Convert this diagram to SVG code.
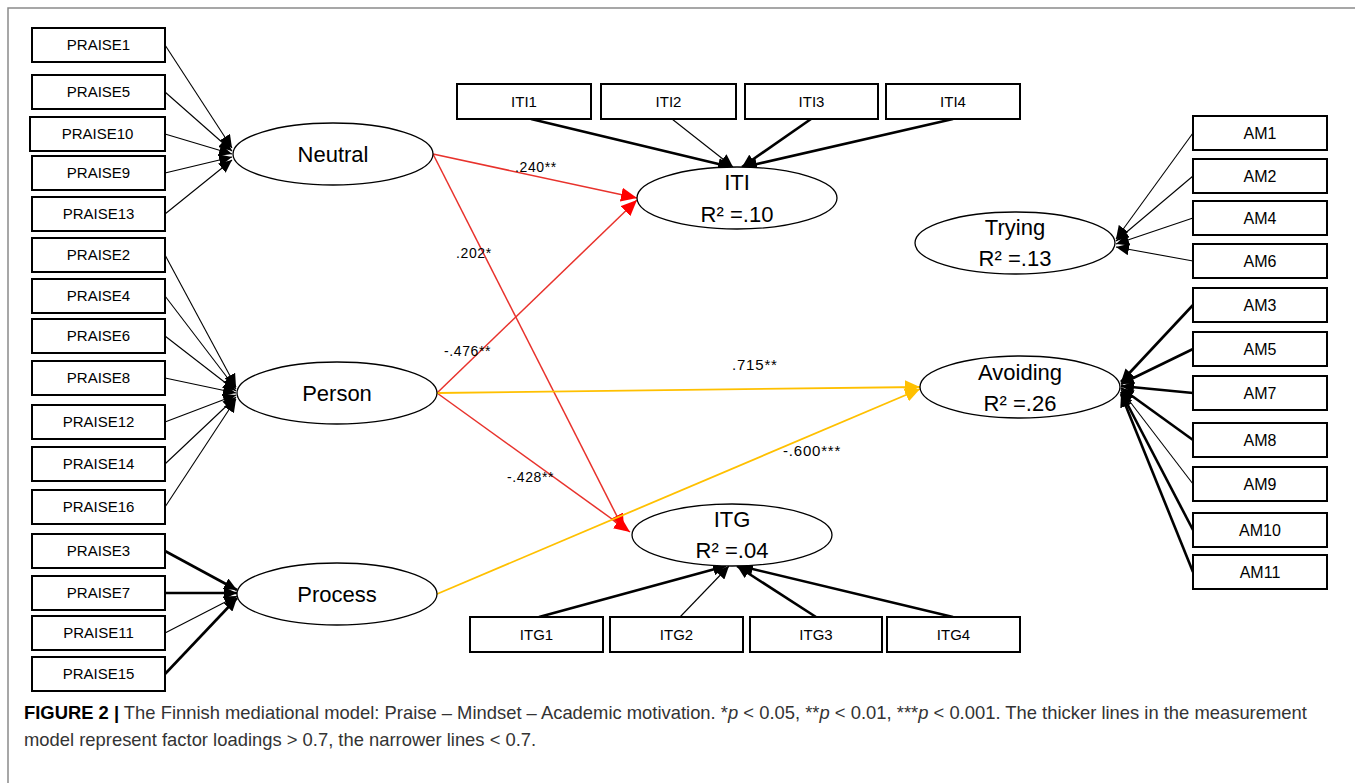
<svg xmlns="http://www.w3.org/2000/svg" width="1355" height="783" viewBox="0 0 1355 783">
<defs>
<style>
.box{fill:#fff;stroke:#000;stroke-width:2}
.lat{fill:#fff;stroke:#000;stroke-width:1.3}
.bt{font-family:"Liberation Sans",Arial,sans-serif;font-size:15px;text-anchor:middle;fill:#000}
.amt{font-family:"Liberation Sans",Arial,sans-serif;font-size:16px;text-anchor:middle;fill:#000}
.lt{font-family:"Liberation Sans",Arial,sans-serif;font-size:22px;text-anchor:middle;fill:#000}
.pl{font-family:"Liberation Sans",Arial,sans-serif;font-size:14px;fill:#000;letter-spacing:0.6px}
.pl2{font-family:"Liberation Sans",Arial,sans-serif;font-size:15px;fill:#000;letter-spacing:0.8px}
.thin{stroke:#000;stroke-width:1.1;fill:none;marker-end:url(#ab)}
.thick{stroke:#000;stroke-width:2.6;fill:none;marker-end:url(#ab)}
.red{stroke:#e8322c;stroke-width:1.5;fill:none;marker-end:url(#ar)}
.yel{stroke:#ffc000;stroke-width:1.8;fill:none;marker-end:url(#ay)}
.cap{font-family:"Liberation Sans",Arial,sans-serif;font-size:18.4px;fill:#333}
</style>
<marker id="ab" markerUnits="userSpaceOnUse" markerWidth="13" markerHeight="12" refX="13" refY="6" orient="auto"><path d="M0,0 L13,6 L0,12 z" fill="#000"/></marker>
<marker id="ar" markerUnits="userSpaceOnUse" markerWidth="16" markerHeight="14" refX="16" refY="7" orient="auto"><path d="M0,0 L16,7 L0,14 z" fill="#ff0000"/></marker>
<marker id="ay" markerUnits="userSpaceOnUse" markerWidth="15" markerHeight="14" refX="15" refY="7" orient="auto"><path d="M0,0 L15,7 L0,14 z" fill="#ffc000"/></marker>
</defs>
<rect width="1355" height="783" fill="#fff"/>
<path d="M8,783 L8,8 L1355,8" fill="none" stroke="#8a8a8a" stroke-width="1.5"/>

<g id="connectors">
<line class="thin" x1="165" y1="45" x2="232" y2="148"/>
<line class="thin" x1="165" y1="92" x2="232" y2="151"/>
<line class="thin" x1="165" y1="134" x2="232" y2="154"/>
<line class="thin" x1="165" y1="173" x2="232" y2="157"/>
<line class="thin" x1="165" y1="214" x2="232" y2="160"/>
<line class="thin" x1="165" y1="255" x2="236" y2="387"/>
<line class="thin" x1="165" y1="296" x2="236" y2="389"/>
<line class="thin" x1="165" y1="336" x2="236" y2="391"/>
<line class="thin" x1="165" y1="378" x2="236" y2="393"/>
<line class="thin" x1="165" y1="422" x2="236" y2="395"/>
<line class="thin" x1="165" y1="464" x2="236" y2="397"/>
<line class="thin" x1="165" y1="507" x2="236" y2="399"/>
<line class="thick" x1="165" y1="551" x2="237" y2="590"/>
<line class="thick" x1="165" y1="593" x2="237" y2="593"/>
<line class="thin" x1="165" y1="633" x2="237" y2="596"/>
<line class="thick" x1="165" y1="674" x2="237" y2="598"/>
<line class="thick" x1="531" y1="119" x2="731" y2="167"/>
<line class="thin" x1="672" y1="119" x2="733" y2="167"/>
<line class="thick" x1="811" y1="119" x2="742" y2="167"/>
<line class="thick" x1="953" y1="119" x2="744" y2="167"/>
<line class="thick" x1="539" y1="617" x2="726" y2="566"/>
<line class="thin" x1="680" y1="617" x2="729" y2="566"/>
<line class="thick" x1="816" y1="617" x2="737" y2="566"/>
<line class="thick" x1="953" y1="617" x2="740" y2="566"/>
<line class="thin" x1="1193" y1="133" x2="1116" y2="239"/>
<line class="thin" x1="1193" y1="176" x2="1116" y2="241"/>
<line class="thin" x1="1193" y1="218" x2="1116" y2="244"/>
<line class="thin" x1="1193" y1="261" x2="1116" y2="247"/>
<line class="thick" x1="1193" y1="305" x2="1121" y2="382"/>
<line class="thick" x1="1193" y1="349" x2="1121" y2="384"/>
<line class="thick" x1="1193" y1="393" x2="1121" y2="386"/>
<line class="thick" x1="1193" y1="440" x2="1121" y2="388"/>
<line class="thin" x1="1193" y1="484" x2="1121" y2="390"/>
<line class="thick" x1="1193" y1="530" x2="1121" y2="392"/>
<line class="thick" x1="1193" y1="572" x2="1121" y2="394"/>
<line class="red" x1="433" y1="154" x2="637" y2="198"/>
<line class="red" x1="433" y1="154" x2="624" y2="530"/>
<line class="red" x1="437" y1="393" x2="637" y2="200"/>
<line class="red" x1="437" y1="393" x2="630" y2="532"/>
<line class="yel" x1="437" y1="393" x2="920" y2="387"/>
<line class="yel" x1="437" y1="594" x2="920" y2="389"/>
<text class="pl" x="515" y="172">.240**</text>
<text class="pl" x="456" y="258">.202*</text>
<text class="pl" x="444" y="356">-.476**</text>
<text class="pl" x="507" y="482">-.428**</text>
<text class="pl2" x="732" y="370">.715**</text>
<text class="pl2" x="783" y="456">-.600***</text>
</g>

<g id="n-PRAISE1"><rect class="box" x="32" y="28" width="133" height="34"/><text class="bt" x="98.5" y="50">PRAISE1</text></g>
<g id="n-PRAISE5"><rect class="box" x="32" y="75" width="133" height="34"/><text class="bt" x="98.5" y="97">PRAISE5</text></g>
<g id="n-PRAISE10"><rect class="box" x="30" y="117" width="135" height="34"/><text class="bt" x="97.5" y="139">PRAISE10</text></g>
<g id="n-PRAISE9"><rect class="box" x="32" y="156" width="133" height="34"/><text class="bt" x="98.5" y="178">PRAISE9</text></g>
<g id="n-PRAISE13"><rect class="box" x="32" y="197" width="133" height="34"/><text class="bt" x="98.5" y="219">PRAISE13</text></g>
<g id="n-PRAISE2"><rect class="box" x="32" y="238" width="133" height="34"/><text class="bt" x="98.5" y="260">PRAISE2</text></g>
<g id="n-PRAISE4"><rect class="box" x="32" y="279" width="133" height="34"/><text class="bt" x="98.5" y="301">PRAISE4</text></g>
<g id="n-PRAISE6"><rect class="box" x="32" y="319" width="133" height="34"/><text class="bt" x="98.5" y="341">PRAISE6</text></g>
<g id="n-PRAISE8"><rect class="box" x="32" y="361" width="133" height="34"/><text class="bt" x="98.5" y="383">PRAISE8</text></g>
<g id="n-PRAISE12"><rect class="box" x="32" y="405" width="133" height="34"/><text class="bt" x="98.5" y="427">PRAISE12</text></g>
<g id="n-PRAISE14"><rect class="box" x="32" y="447" width="133" height="34"/><text class="bt" x="98.5" y="469">PRAISE14</text></g>
<g id="n-PRAISE16"><rect class="box" x="32" y="490" width="133" height="34"/><text class="bt" x="98.5" y="512">PRAISE16</text></g>
<g id="n-PRAISE3"><rect class="box" x="32" y="534" width="133" height="34"/><text class="bt" x="98.5" y="556">PRAISE3</text></g>
<g id="n-PRAISE7"><rect class="box" x="32" y="576" width="133" height="34"/><text class="bt" x="98.5" y="598">PRAISE7</text></g>
<g id="n-PRAISE11"><rect class="box" x="32" y="616" width="133" height="34"/><text class="bt" x="98.5" y="638">PRAISE11</text></g>
<g id="n-PRAISE15"><rect class="box" x="32" y="657" width="133" height="34"/><text class="bt" x="98.5" y="679">PRAISE15</text></g>

<g id="n-ITI1"><rect class="box" x="457" y="84" width="134" height="35"/><text class="bt" x="524" y="107">ITI1</text></g>
<g id="n-ITI2"><rect class="box" x="601" y="84" width="135" height="35"/><text class="bt" x="668.5" y="107">ITI2</text></g>
<g id="n-ITI3"><rect class="box" x="745" y="84" width="133" height="35"/><text class="bt" x="811.5" y="107">ITI3</text></g>
<g id="n-ITI4"><rect class="box" x="886" y="84" width="134" height="35"/><text class="bt" x="953" y="107">ITI4</text></g>

<g id="n-ITG1"><rect class="box" x="470" y="617" width="133" height="35"/><text class="bt" x="536.5" y="640">ITG1</text></g>
<g id="n-ITG2"><rect class="box" x="610" y="617" width="133" height="35"/><text class="bt" x="676.5" y="640">ITG2</text></g>
<g id="n-ITG3"><rect class="box" x="750" y="617" width="132" height="35"/><text class="bt" x="816" y="640">ITG3</text></g>
<g id="n-ITG4"><rect class="box" x="887" y="617" width="133" height="35"/><text class="bt" x="953.5" y="640">ITG4</text></g>

<g id="n-AM1"><rect class="box" x="1193" y="116" width="134" height="34"/><text class="amt" x="1260" y="139">AM1</text></g>
<g id="n-AM2"><rect class="box" x="1193" y="159" width="134" height="34"/><text class="amt" x="1260" y="182">AM2</text></g>
<g id="n-AM4"><rect class="box" x="1193" y="201" width="134" height="34"/><text class="amt" x="1260" y="224">AM4</text></g>
<g id="n-AM6"><rect class="box" x="1193" y="244" width="134" height="34"/><text class="amt" x="1260" y="267">AM6</text></g>
<g id="n-AM3"><rect class="box" x="1193" y="288" width="134" height="34"/><text class="amt" x="1260" y="311">AM3</text></g>
<g id="n-AM5"><rect class="box" x="1193" y="332" width="134" height="34"/><text class="amt" x="1260" y="355">AM5</text></g>
<g id="n-AM7"><rect class="box" x="1193" y="376" width="134" height="34"/><text class="amt" x="1260" y="399">AM7</text></g>
<g id="n-AM8"><rect class="box" x="1193" y="423" width="134" height="34"/><text class="amt" x="1260" y="446">AM8</text></g>
<g id="n-AM9"><rect class="box" x="1193" y="467" width="134" height="34"/><text class="amt" x="1260" y="490">AM9</text></g>
<g id="n-AM10"><rect class="box" x="1193" y="513" width="134" height="34"/><text class="amt" x="1260" y="536">AM10</text></g>
<g id="n-AM11"><rect class="box" x="1193" y="555" width="134" height="34"/><text class="amt" x="1260" y="578">AM11</text></g>

<g id="n-Neutral"><ellipse class="lat" cx="333" cy="154" rx="100" ry="31"/><text class="lt" x="333" y="162">Neutral</text></g>
<g id="n-Person"><ellipse class="lat" cx="337" cy="393" rx="100" ry="31"/><text class="lt" x="337" y="401">Person</text></g>
<g id="n-Process"><ellipse class="lat" cx="337" cy="594" rx="100" ry="31"/><text class="lt" x="337" y="602">Process</text></g>
<g id="n-ITI"><ellipse class="lat" cx="737" cy="198" rx="100" ry="31"/><text class="lt" x="737" y="190">ITI</text><text class="lt" x="737" y="222">R² =.10</text></g>
<g id="n-ITG"><ellipse class="lat" cx="732" cy="535" rx="100" ry="31"/><text class="lt" x="732" y="527">ITG</text><text class="lt" x="732" y="558">R² =.04</text></g>
<g id="n-Trying"><ellipse class="lat" cx="1015" cy="243" rx="100" ry="31"/><text class="lt" x="1015" y="235">Trying</text><text class="lt" x="1015" y="266">R² =.13</text></g>
<g id="n-Avoiding"><ellipse class="lat" cx="1020" cy="387" rx="100" ry="31"/><text class="lt" x="1020" y="380">Avoiding</text><text class="lt" x="1020" y="411">R² =.26</text></g>

<g id="caption">
<text class="cap" x="24" y="719"><tspan font-weight="bold" fill="#000">FIGURE 2 |</tspan> The Finnish mediational model: Praise – Mindset – Academic motivation. *<tspan font-style="italic">p</tspan> &lt; 0.05, **<tspan font-style="italic">p</tspan> &lt; 0.01, ***<tspan font-style="italic">p</tspan> &lt; 0.001. The thicker lines in the measurement</text>
<text class="cap" x="24" y="746">model represent factor loadings &gt; 0.7, the narrower lines &lt; 0.7.</text>
</g>
</svg>
